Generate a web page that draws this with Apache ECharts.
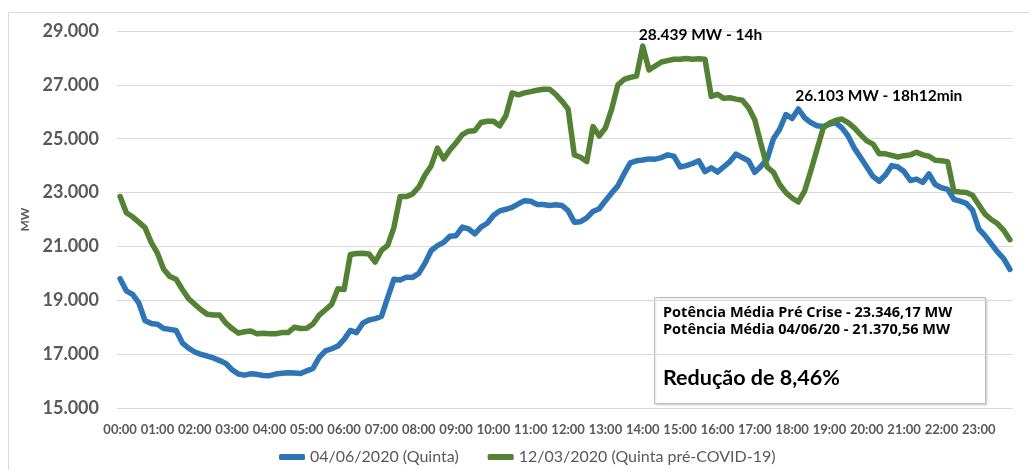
<!DOCTYPE html>
<html>
<head>
<meta charset="utf-8">
<script src="https://cdn.jsdelivr.net/npm/echarts@6/dist/echarts.min.js"></script>
<style>
  html, body { margin: 0; padding: 0; background: #fff; }
  #chart { width: 1029px; height: 470px; }
</style>
</head>
<body>
<div id="chart"></div>
<script>
// Time categories every 10 minutes
const times = [];
for (let h = 0; h < 24; h++) {
  for (let m = 0; m < 60; m += 10) {
    times.push(String(h).padStart(2, '0') + ':' + String(m).padStart(2, '0'));
  }
}

const seriesNames = ['04/06/2020 (Quinta)', '12/03/2020 (Quinta pré-COVID-19)'];

// 04/06/2020 (Quinta) - MW, every 10 min
const juneValues = [
  19800, 19350, 19220, 18900, 18250, 18140,
  18110, 17950, 17920, 17880, 17420, 17220,
  17080, 16990, 16930, 16860, 16760, 16650,
  16420, 16260, 16220, 16270, 16250, 16210,
  16200, 16260, 16290, 16310, 16300, 16280,
  16380, 16470, 16880, 17120, 17200, 17300,
  17550, 17880, 17800, 18150, 18270, 18320,
  18400, 19100, 19780, 19750, 19860, 19850,
  20000, 20380, 20850, 21030, 21150, 21380,
  21400, 21720, 21650, 21470, 21720, 21860,
  22150, 22320, 22380, 22450, 22580, 22700,
  22680, 22560, 22560, 22520, 22550, 22520,
  22330, 21900, 21920, 22060, 22300, 22400,
  22700, 22980, 23250, 23700, 24100, 24180,
  24210, 24250, 24240, 24300, 24400, 24350,
  23950, 24000, 24080, 24180, 23780, 23920,
  23760, 23950, 24150, 24430, 24300, 24180,
  23750, 23980, 24250, 25000, 25350, 25900,
  25750, 26103, 25780, 25600, 25480, 25450,
  25540, 25600, 25400, 25100, 24650, 24300,
  23950, 23600, 23420, 23650, 24000, 23950,
  23780, 23450, 23500, 23380, 23690, 23300,
  23180, 23120, 22750, 22680, 22600, 22350,
  21650, 21400, 21100, 20800, 20550, 20150
];

// 12/03/2020 (Quinta pré-COVID-19) - MW, every 10 min
const marchValues = [
  22850, 22250, 22100, 21900, 21700, 21150,
  20750, 20150, 19880, 19780, 19400, 19060,
  18850, 18650, 18480, 18450, 18450, 18150,
  17950, 17780, 17830, 17860, 17760, 17780,
  17760, 17760, 17800, 17800, 18000, 17950,
  17960, 18120, 18450, 18650, 18850, 19430,
  19400, 20700, 20740, 20750, 20720, 20420,
  20850, 21040, 21700, 22850, 22850, 22950,
  23200, 23650, 24000, 24650, 24250, 24580,
  24850, 25150, 25280, 25300, 25600, 25650,
  25650, 25480, 25850, 26700, 26630, 26700,
  26750, 26800, 26840, 26840, 26650, 26400,
  26100, 24400, 24310, 24150, 25450, 25100,
  25400, 26100, 27000, 27200, 27280, 27330,
  28439, 27550, 27700, 27850, 27900, 27950,
  27950, 27980, 27950, 27970, 27950, 26570,
  26650, 26500, 26520, 26470, 26430, 26150,
  25700, 24800, 23950, 23750, 23300, 23000,
  22800, 22650, 23050, 23800, 24600, 25400,
  25580, 25680, 25730, 25600, 25400, 25150,
  24920, 24800, 24440, 24440, 24380, 24320,
  24370, 24400, 24500, 24400, 24350, 24200,
  24180, 24150, 23050, 23020, 23000, 22900,
  22550, 22200, 22000, 21850, 21600, 21250
];

const yTicks = { min: 15000, max: 29000, step: 2000 };
const peakLabels = ['26.103 MW - 18h12min', '28.439 MW - 14h'];
const boxLines = [
  'Potência Média Pré Crise - 23.346,17 MW',
  'Potência Média 04/06/20 - 21.370,56 MW',
  'Redução de 8,46%'
];

const FONT = 'Lato, "Open Sans", sans-serif';
const BOXFONT = '"Open Sans", Lato, sans-serif';
const chart = echarts.init(document.getElementById('chart'), null, { renderer: 'canvas' });

chart.setOption({
  backgroundColor: '#ffffff',
  animation: false,
  textStyle: { fontFamily: FONT },
  grid: { left: 117, right: 16, top: 31, bottom: 62 },
  legend: {
    left: 279,
    top: 449,
    padding: 0,
    itemWidth: 26,
    itemHeight: 6,
    itemGap: 29,
    icon: 'roundRect',
    textStyle: { color: '#595959', fontSize: 16, fontFamily: FONT },
    data: seriesNames
  },
  xAxis: {
    type: 'category',
    data: times,
    boundaryGap: true,
    axisLine: { show: false },
    axisTick: { show: false },
    axisLabel: {
      interval: 5,
      color: '#595959',
      fontSize: 13,
      fontWeight: 'bold',
      fontFamily: FONT,
      margin: 15
    },
    splitLine: { show: false }
  },
  yAxis: {
    type: 'value',
    min: yTicks.min,
    max: yTicks.max,
    interval: yTicks.step,
    name: 'MW',
    nameLocation: 'middle',
    nameRotate: 90,
    nameGap: 82,
    nameTextStyle: { color: '#595959', fontSize: 12, fontWeight: 'bold', fontFamily: FONT },
    axisLine: { show: false },
    axisTick: { show: false },
    axisLabel: {
      color: '#595959',
      fontSize: 18,
      fontWeight: 'bold',
      fontFamily: FONT,
      margin: 18,
      formatter: v => (v / 1000).toFixed(3)
    },
    splitLine: { lineStyle: { color: '#D9D9D9', width: 1 } }
  },
  series: [
    {
      name: seriesNames[0],
      type: 'line',
      data: juneValues,
      showSymbol: false,
      symbol: 'none',
      color: '#2E75B6',
      lineStyle: { width: 5.5, color: '#2E75B6', cap: 'round', join: 'round' },
      markPoint: {
        symbol: 'circle',
        symbolSize: 0,
        data: [{ type: 'max' }],
        label: {
          show: true,
          position: 'top',
          align: 'left',
          distance: 0,
          offset: [-3, -5],
          formatter: peakLabels[0],
          color: '#000000',
          fontSize: 15.5,
          fontWeight: 'bold',
          fontFamily: FONT
        }
      }
    },
    {
      name: seriesNames[1],
      type: 'line',
      data: marchValues,
      showSymbol: false,
      symbol: 'none',
      color: '#548235',
      lineStyle: { width: 5.5, color: '#548235', cap: 'round', join: 'round' },
      markPoint: {
        symbol: 'circle',
        symbolSize: 0,
        data: [{ type: 'max' }],
        label: {
          show: true,
          position: 'top',
          align: 'left',
          distance: 0,
          offset: [-4, -3],
          formatter: peakLabels[1],
          color: '#000000',
          fontSize: 15.5,
          fontWeight: 'bold',
          fontFamily: FONT
        }
      }
    }
  ],
  graphic: [
    {
      type: 'rect',
      silent: true,
      z: -10,
      shape: { x: 8.5, y: 12.5, width: 1040, height: 480 },
      style: { fill: 'none', stroke: '#D9D9D9', lineWidth: 1 }
    },
    {
      type: 'group',
      left: 654,
      top: 297,
      z: 100,
      children: [
        {
          type: 'rect',
          shape: { x: 0.5, y: 0.5, width: 331, height: 106 },
          style: { fill: '#ffffff', stroke: '#BFBFBF', lineWidth: 1,
                   shadowColor: 'rgba(0,0,0,0.15)', shadowBlur: 2, shadowOffsetX: 1, shadowOffsetY: 1 }
        },
        {
          type: 'text',
          x: 9, y: 16,
          style: { text: boxLines[0], fill: '#000', font: 'bold 14.5px ' + BOXFONT, textVerticalAlign: 'middle' }
        },
        {
          type: 'text',
          x: 9, y: 33,
          style: { text: boxLines[1], fill: '#000', font: 'bold 14.5px ' + BOXFONT, textVerticalAlign: 'middle' }
        },
        {
          type: 'text',
          x: 9, y: 81,
          style: { text: boxLines[2], fill: '#000', font: 'bold 21.5px ' + FONT, textVerticalAlign: 'middle' }
        }
      ]
    }
  ]
});
</script>
</body>
</html>
